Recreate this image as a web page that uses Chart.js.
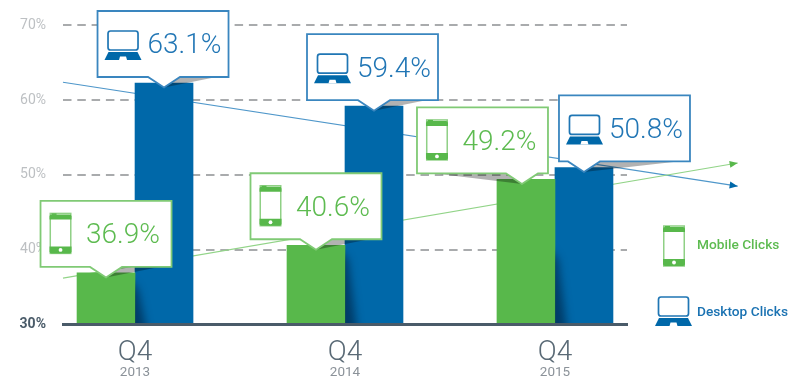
<!DOCTYPE html>
<html><head><meta charset="utf-8">
<style>html,body{margin:0;padding:0;background:#fff}canvas{display:block}</style>
<script src="https://cdn.jsdelivr.net/npm/chart.js@4/dist/chart.umd.min.js"></script>
</head><body><canvas id="c" width="800" height="386"></canvas>
<script>
const years = [2013, 2014, 2015];
const quarterLabel = 'Q4';
const seriesNames = ['Mobile Clicks', 'Desktop Clicks'];
// Bar heights as drawn in the picture (the 2013 desktop bar is drawn a little below its printed 63.1%).
const mobileValues = [36.9, 40.6, 49.4];
const desktopValues = [62.3, 59.2, 51.0];
const mobileCallouts = ['36.9%', '40.6%', '49.2%'];
const desktopCallouts = ['63.1%', '59.4%', '50.8%'];
const yTicks = [30, 40, 50, 60, 70];
const trendX = [2012.657, 2015.87];
const mobileTrend = [36.2, 51.6];
const desktopTrend = [62.4, 48.5];

const GREEN = '#58b84b', BLUE = '#0068a9', SLATE = '#4a5b69';
const FONT = 'Roboto, sans-serif';
const xMin = 2012.657, xMax = 2015.343;

function phone(ctx, x, y, w, h) {
  ctx.save();
  ctx.fillStyle = '#fff';
  ctx.strokeStyle = '#8fd085';
  ctx.lineWidth = 1.5;
  ctx.fillRect(x, y, w, h);
  ctx.strokeRect(x + .75, y, w - 1.5, h);
  ctx.fillStyle = GREEN;
  ctx.beginPath(); ctx.roundRect(x, y + 1, w, 5, [2, 2, 0, 0]); ctx.fill();
  ctx.fillRect(x + 2, y, 5, 1.5);
  ctx.beginPath(); ctx.roundRect(x, y + h - 7, w, 7, [0, 0, 2, 2]); ctx.fill();
  ctx.fillStyle = '#fff';
  ctx.beginPath(); ctx.arc(x + w / 2, y + h - 3.5, 1.9, 0, Math.PI * 2); ctx.fill();
  ctx.restore();
}
function laptop(ctx, x, y) {
  ctx.save();
  ctx.strokeStyle = '#1f76b4';
  ctx.lineWidth = 1.7;
  ctx.beginPath(); ctx.roundRect(x + 3.5, y + 1, 30, 19, 2.5); ctx.stroke();
  ctx.fillStyle = BLUE;
  ctx.beginPath();
  ctx.moveTo(x + 4, y + 22); ctx.lineTo(x + 33, y + 22);
  ctx.lineTo(x + 37, y + 30); ctx.lineTo(x, y + 30); ctx.closePath(); ctx.fill();
  ctx.fillStyle = '#fff';
  ctx.beginPath();
  ctx.moveTo(x + 15.5, y + 26.5); ctx.lineTo(x + 21.5, y + 26.5);
  ctx.lineTo(x + 22.5, y + 30); ctx.lineTo(x + 14.5, y + 30); ctx.closePath(); ctx.fill();
  ctx.restore();
}

// offset of each callout box from its bar's centre; shadow falls left or right of the pointer
const mobileBoxes = [{dx: -65.5, tipDx: 0, side: 1}, {dx: -65.5, tipDx: 0, side: 1}, {dx: -109, tipDx: -4, side: -1}];
const desktopBoxes = [{dx: -66.5, tipDx: 0, side: 1}, {dx: -67, tipDx: 0, side: 1}, {dx: -25, tipDx: 0, side: 1}];

function callout(ctx, el, cfg, text, kind) {
  const W = 131, H = 66;
  const x = el.x + cfg.dx, tip = el.x + cfg.tipDx, tipY = el.y + 4.5;
  const bottom = el.y - 6, y = bottom - H, right = x + W;
  const color = kind === 'mobile' ? '#80ca75' : '#3a86bf';
  ctx.save();
  ctx.fillStyle = 'rgba(0,0,0,.3)';
  ctx.beginPath();
  ctx.moveTo(tip, tipY);
  if (cfg.side > 0) { ctx.lineTo(tip + 16, bottom); ctx.lineTo(right - 12, bottom); }
  else { ctx.lineTo(tip - 16, bottom); ctx.lineTo(x + 18, bottom); }
  ctx.closePath(); ctx.fill();
  ctx.fillStyle = '#fff';
  ctx.strokeStyle = color;
  ctx.lineWidth = 1.8;
  ctx.lineJoin = 'miter';
  ctx.beginPath();
  ctx.moveTo(x, y); ctx.lineTo(right, y); ctx.lineTo(right, bottom);
  ctx.lineTo(tip + 16, bottom); ctx.lineTo(tip, tipY); ctx.lineTo(tip - 16, bottom);
  ctx.lineTo(x, bottom); ctx.closePath();
  ctx.fill(); ctx.stroke();
  ctx.textBaseline = 'alphabetic'; ctx.textAlign = 'left';
  ctx.font = '300 28px ' + FONT;
  if (kind === 'mobile') {
    phone(ctx, x + 9, y + 12.5, 22, 40);
    ctx.fillStyle = '#5dbb50';
    ctx.fillText(text, x + 45.5, y + 42.5);
  } else {
    laptop(ctx, x + 7, y + 19);
    ctx.fillStyle = '#2176b5';
    ctx.fillText(text, x + 50, y + 42.5);
  }
  ctx.restore();
}

const decorations = {
  id: 'decorations',
  afterDatasetsDraw(chart) {
    const ctx = chart.ctx, base = chart.scales.y.getPixelForValue(30);
    const m = chart.getDatasetMeta(0).data, d = chart.getDatasetMeta(1).data;
    // soft shadow on the left edge of the desktop bars, kept inside each bar
    d.forEach((bar, i) => {
      const left = bar.x - bar.width / 2;
      const start = [275, 245, 245][i];
      ctx.save();
      ctx.beginPath(); ctx.rect(left, start - 10, bar.width, base - start + 10); ctx.clip();
      ctx.filter = 'blur(4px)';
      ctx.fillStyle = 'rgba(0,30,60,.6)';
      ctx.beginPath();
      ctx.moveTo(left - 8, start); ctx.lineTo(left + 3, start + 15); ctx.lineTo(left + 12, base + 8); ctx.lineTo(left - 8, base + 8);
      ctx.closePath(); ctx.fill();
      ctx.restore();
    });
    // arrow heads of the two trend lines
    [[2, '#58b84b'], [3, BLUE]].forEach(([idx, col]) => {
      const pts = chart.getDatasetMeta(idx).data, a = pts[0], b = pts[1];
      const ang = Math.atan2(b.y - a.y, b.x - a.x);
      ctx.save();
      ctx.translate(b.x, b.y); ctx.rotate(ang);
      ctx.fillStyle = col;
      ctx.beginPath(); ctx.moveTo(0, 0); ctx.lineTo(-8, -3.5); ctx.lineTo(-8, 3.5); ctx.closePath(); ctx.fill();
      ctx.restore();
    });
    d.forEach((el, i) => callout(ctx, el, desktopBoxes[i], desktopCallouts[i], 'desktop'));
    m.forEach((el, i) => callout(ctx, el, mobileBoxes[i], mobileCallouts[i], 'mobile'));
    // legend
    ctx.save();
    ctx.font = '500 13.7px ' + FONT;
    ctx.textBaseline = 'alphabetic'; ctx.textAlign = 'left';
    phone(ctx, 663, 226, 22, 40);
    ctx.fillStyle = '#5dbb50'; ctx.fillText(seriesNames[0], 697, 249);
    laptop(ctx, 655, 296);
    ctx.fillStyle = '#1a72b2'; ctx.fillText(seriesNames[1], 697, 316);
    ctx.restore();
  }
};

const xCommon = {type: 'linear', min: xMin, max: xMax, offset: false, grid: {display: false}};
new Chart(document.getElementById('c'), {
  type: 'bar',
  data: {
    datasets: [
      {label: seriesNames[0], order: 1, backgroundColor: GREEN, barThickness: 58,
       data: years.map((x, i) => ({x, y: mobileValues[i]}))},
      {label: seriesNames[1], order: 1, backgroundColor: BLUE, barThickness: 58,
       data: years.map((x, i) => ({x, y: desktopValues[i]}))},
      {type: 'line', label: 'Mobile trend', order: 2, clip: false, pointRadius: 0, tension: 0,
       borderColor: '#92d488', borderWidth: 1.2,
       data: trendX.map((x, i) => ({x, y: mobileTrend[i]}))},
      {type: 'line', label: 'Desktop trend', order: 2, clip: false, pointRadius: 0, tension: 0,
       borderColor: '#4f97ca', borderWidth: 1.2,
       data: trendX.map((x, i) => ({x, y: desktopTrend[i]}))}
    ]
  },
  plugins: [decorations],
  options: {
    responsive: false, animation: false,
    layout: {padding: {left: 0, right: 173, top: 24, bottom: 0}},
    plugins: {legend: {display: false}, tooltip: {enabled: false}},
    scales: {
      x: {...xCommon, position: 'bottom', weight: 1,
        border: {display: true, color: SLATE, width: 3, z: 2},
        afterBuildTicks: s => { s.ticks = years.map(value => ({value})); },
        afterFit: s => { s.height = 38; },
        ticks: {autoSkip: false, maxRotation: 0, padding: 4, color: '#5a6a76',
          font: {family: FONT, size: 28, weight: '300'}, callback: () => quarterLabel}},
      x2: {...xCommon, position: 'bottom', weight: 2, border: {display: false},
        afterBuildTicks: s => { s.ticks = years.map(value => ({value})); },
        afterFit: s => { s.height = 23.5; },
        ticks: {autoSkip: false, maxRotation: 0, padding: -6, color: '#8b9299',
          font: {family: FONT, size: 13.5, weight: '400'}, callback: v => String(v)}},
      y: {type: 'linear', min: 30, max: 70,
        afterBuildTicks: s => { s.ticks = yTicks.map(value => ({value})); },
        afterFit: s => { s.width = 63; },
        border: {display: false, dash: [8.5, 5.8]},
        grid: {drawTicks: false, lineWidth: 2,
          color: c => c.tick?.value === 30 ? 'rgba(0,0,0,0)' : '#a9abad'},
        ticks: {padding: 17,
          color: c => c.tick?.value === 30 ? SLATE : '#bdc0c3',
          font: c => ({family: FONT, size: 14, weight: c.tick?.value === 30 ? '700' : '400'}),
          callback: v => v + '%'}}
    }
  }
});
</script></body></html>
